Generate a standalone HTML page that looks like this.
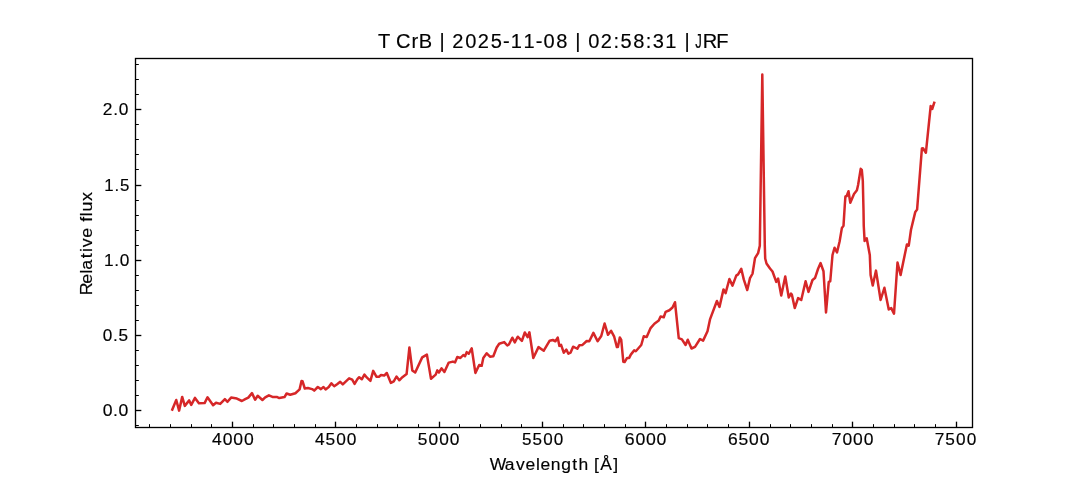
<!DOCTYPE html>
<html><head><meta charset="utf-8"><title>T CrB | 2025-11-08 | 02:58:31 | JRF</title>
<style>
html,body{margin:0;padding:0;background:#fff;width:1080px;height:480px;overflow:hidden}
svg{position:absolute;left:0;top:0;display:block}
text{font-family:"Liberation Sans", sans-serif;fill:#000}
</style></head><body>
<svg width="1080" height="480" viewBox="0 0 1080 480">
<rect x="0" y="0" width="1080" height="480" fill="#fff"/>
<path d="M172.3 409.6 L176.25 400 L179.1 410.6 L182.2 396.9 L184.8 405.9 L189.2 400.4 L191.25 404.9 L195 397.9 L198.9 403.3 L204.6 403.1 L207.5 397.3 L213.1 405.2 L216 402.8 L220.2 403.9 L224.9 399.2 L227.5 401.8 L231.1 397.6 L236.9 398.6 L241.9 401 L245.2 399.2 L248.3 397.6 L252 393.1 L255.1 399.7 L257.7 395.8 L262.4 400 L265.2 397.4 L268.9 395.3 L272.5 396.9 L276.7 396.9 L279.3 398.1 L284.5 397.1 L286.6 393.5 L290.2 394.8 L295.4 393.2 L299.6 389.4 L301.5 381 L302.5 381.25 L304.8 388.5 L307.9 388 L312.1 389.1 L314.2 390.6 L317.8 387 L320.9 389.1 L323.5 387 L325.6 389.4 L328.75 387 L331.4 383.3 L334.2 386.25 L337.1 384.2 L340.2 381.8 L342.8 384.4 L345.4 381.8 L349.1 378.3 L352.2 379.7 L354.6 383.9 L357.4 379.2 L359.2 377.2 L361.8 379.3 L364.4 374.6 L367 377.7 L370.4 380.8 L373.2 370.9 L376.4 376.7 L379 376.7 L381 375.1 L384.2 375.6 L386.8 373 L390.9 382.9 L393.75 381.35 L396.5 376.5 L399.3 380.3 L402.4 377.2 L406.6 374.1 L409.4 347.5 L412.3 370.4 L415.2 372.5 L422.2 357.4 L426.9 354.6 L431 378.75 L435.7 374.6 L437.3 370.4 L438.9 372.5 L441.5 368.3 L444.4 372 L448.75 362.6 L452.9 361.6 L455 362.4 L457.3 357 L460.4 358 L463.3 355 L465 356.25 L466.7 352.1 L468.75 353.75 L471.7 348.3 L475.4 372.9 L479.2 365 L481.7 365.8 L483.3 357.9 L486.7 353.3 L490 356.7 L493.3 356.25 L496.7 347.5 L499.2 343.75 L504.2 342.1 L507.3 345.5 L508.9 344.5 L512.3 337.7 L514.8 342.4 L517.7 336.7 L521.9 340.8 L524.8 332.5 L527.6 337.2 L529.4 332.3 L533.3 358 L538.5 347.1 L543.75 350.7 L549.7 340.7 L552.8 340 L555.4 341.25 L557.7 337.6 L559.4 345.9 L561.1 344.9 L563.75 352.7 L566.35 349.6 L568.4 353.75 L570.5 352.7 L573.1 346.7 L577.3 348.75 L579.4 345.2 L582.5 344.9 L586.7 341 L589.3 341.25 L593.4 332.9 L597.6 341.25 L601.25 336 L604.6 323.5 L608 334.8 L611.1 330.8 L614.2 336.7 L616.9 347.1 L617.9 347.1 L619.8 337.5 L621.25 340 L623.3 361.7 L624.6 362.1 L627.1 357.9 L629.2 357.9 L630.8 354.6 L634.2 350.4 L635.8 351.25 L641.25 345 L643.75 336.25 L646.7 337.1 L650.6 328.1 L654.4 323.75 L658.75 320.6 L660.6 316.5 L663.75 317.25 L665.6 311.9 L669.4 310.25 L672.5 307.5 L675 302.25 L678.75 338.1 L681.9 339.4 L685.6 345 L687.75 339.75 L691.5 348.5 L695 346.9 L700 339 L703.1 340.6 L707.5 331.25 L710 319.4 L716.9 301 L719.5 306.9 L723.5 289.4 L725.6 293.1 L729.4 279 L732.5 285.6 L736.25 275.6 L738.1 274.4 L741.25 268.75 L743.75 279.4 L747.25 290 L750 278.1 L752.5 273.75 L755 258.1 L758.1 253.1 L759.8 245.8 L762.3 74.5 L764.8 245.8 L765.2 258.5 L766.5 263.5 L770 268.5 L772.5 271.5 L776.25 281.9 L778.1 278.5 L781.25 295.6 L785.25 276.5 L788.75 297.5 L791 293.5 L791.9 294.75 L794.75 308.1 L798.1 298.1 L801.25 300 L805.6 281.25 L808.5 291.9 L812.5 280 L815 278.1 L818.1 268.75 L820.6 263.1 L823.5 271.25 L826 312.5 L828.75 281.9 L830.25 281.25 L832.5 255 L834.6 247.7 L837 252.4 L839.6 241.5 L841.9 227.9 L843.5 225.8 L844.8 205 L845.4 196.5 L846.7 196 L848.5 191.25 L850.3 202.7 L854 193.9 L856.9 190.2 L858.1 185 L860.7 168.85 L861.8 169.9 L862.8 180.8 L863.5 210 L863.75 225.8 L864.6 240.9 L866.7 238.3 L869.8 255 L870.6 275 L872.75 285.6 L876 270.6 L880.6 300 L884.4 287.75 L888.75 309.4 L891.25 308.1 L894 313.75 L897.5 262.5 L900.6 275 L906.9 244.4 L908.75 245.6 L911 229.7 L915.3 211.9 L917.1 209.6 L921.9 148.5 L923 148.3 L925.9 152.7 L930.7 106 L932.2 109 L934.2 102.8" fill="none" stroke="#d62728" stroke-width="2.5" stroke-linejoin="round" stroke-linecap="square"/>
<g stroke="#000" fill="none">
<path d="M149.5 427.5V424.167" stroke-width="1.0"/>
<path d="M170.5 427.5V424.167" stroke-width="1.0"/>
<path d="M191.5 427.5V424.167" stroke-width="1.0"/>
<path d="M211.5 427.5V424.167" stroke-width="1.0"/>
<path d="M232.5 427.5V421.667" stroke-width="1.333"/>
<path d="M253.5 427.5V424.167" stroke-width="1.0"/>
<path d="M273.5 427.5V424.167" stroke-width="1.0"/>
<path d="M294.5 427.5V424.167" stroke-width="1.0"/>
<path d="M315.5 427.5V424.167" stroke-width="1.0"/>
<path d="M335.5 427.5V421.667" stroke-width="1.333"/>
<path d="M356.5 427.5V424.167" stroke-width="1.0"/>
<path d="M377.5 427.5V424.167" stroke-width="1.0"/>
<path d="M397.5 427.5V424.167" stroke-width="1.0"/>
<path d="M418.5 427.5V424.167" stroke-width="1.0"/>
<path d="M439.5 427.5V421.667" stroke-width="1.333"/>
<path d="M459.5 427.5V424.167" stroke-width="1.0"/>
<path d="M480.5 427.5V424.167" stroke-width="1.0"/>
<path d="M501.5 427.5V424.167" stroke-width="1.0"/>
<path d="M521.5 427.5V424.167" stroke-width="1.0"/>
<path d="M542.5 427.5V421.667" stroke-width="1.333"/>
<path d="M563.5 427.5V424.167" stroke-width="1.0"/>
<path d="M583.5 427.5V424.167" stroke-width="1.0"/>
<path d="M604.5 427.5V424.167" stroke-width="1.0"/>
<path d="M625.5 427.5V424.167" stroke-width="1.0"/>
<path d="M645.5 427.5V421.667" stroke-width="1.333"/>
<path d="M666.5 427.5V424.167" stroke-width="1.0"/>
<path d="M687.5 427.5V424.167" stroke-width="1.0"/>
<path d="M707.5 427.5V424.167" stroke-width="1.0"/>
<path d="M728.5 427.5V424.167" stroke-width="1.0"/>
<path d="M749.5 427.5V421.667" stroke-width="1.333"/>
<path d="M770.5 427.5V424.167" stroke-width="1.0"/>
<path d="M790.5 427.5V424.167" stroke-width="1.0"/>
<path d="M811.5 427.5V424.167" stroke-width="1.0"/>
<path d="M832.5 427.5V424.167" stroke-width="1.0"/>
<path d="M852.5 427.5V421.667" stroke-width="1.333"/>
<path d="M873.5 427.5V424.167" stroke-width="1.0"/>
<path d="M894.5 427.5V424.167" stroke-width="1.0"/>
<path d="M914.5 427.5V424.167" stroke-width="1.0"/>
<path d="M935.5 427.5V424.167" stroke-width="1.0"/>
<path d="M956.5 427.5V421.667" stroke-width="1.333"/>
<path d="M135.5 425.5H138.833" stroke-width="1.0"/>
<path d="M135.5 410.5H141.333" stroke-width="1.333"/>
<path d="M135.5 395.5H138.833" stroke-width="1.0"/>
<path d="M135.5 380.5H138.833" stroke-width="1.0"/>
<path d="M135.5 365.5H138.833" stroke-width="1.0"/>
<path d="M135.5 350.5H138.833" stroke-width="1.0"/>
<path d="M135.5 335.5H141.333" stroke-width="1.333"/>
<path d="M135.5 320.5H138.833" stroke-width="1.0"/>
<path d="M135.5 305.5H138.833" stroke-width="1.0"/>
<path d="M135.5 290.5H138.833" stroke-width="1.0"/>
<path d="M135.5 275.5H138.833" stroke-width="1.0"/>
<path d="M135.5 260.5H141.333" stroke-width="1.333"/>
<path d="M135.5 245.5H138.833" stroke-width="1.0"/>
<path d="M135.5 230.5H138.833" stroke-width="1.0"/>
<path d="M135.5 215.5H138.833" stroke-width="1.0"/>
<path d="M135.5 200.5H138.833" stroke-width="1.0"/>
<path d="M135.5 185.5H141.333" stroke-width="1.333"/>
<path d="M135.5 169.5H138.833" stroke-width="1.0"/>
<path d="M135.5 154.5H138.833" stroke-width="1.0"/>
<path d="M135.5 139.5H138.833" stroke-width="1.0"/>
<path d="M135.5 124.5H138.833" stroke-width="1.0"/>
<path d="M135.5 109.5H141.333" stroke-width="1.333"/>
<path d="M135.5 94.5H138.833" stroke-width="1.0"/>
<path d="M135.5 79.5H138.833" stroke-width="1.0"/>
<path d="M135.5 64.5H138.833" stroke-width="1.0"/>
</g>
<rect x="135.5" y="58.5" width="837.0" height="369.0" fill="none" stroke="#000" stroke-width="1.333"/>
<g opacity="0.999" stroke="#000" stroke-width="0.18">
<text x="-0.015 13.318 19.229 35.616 43.214 57.963 65.071 71.796 78.641 92.36 105.523 119.16 132.144 140.207 153.648 166.648 174.811 188.252 201.284 208.392 215.117 222.241 235.403 248.92 256.158 269.681 282.92 290.265 303.581 316.713 323.82 330.545 332.841 343.119 357.337" y="0" font-size="21.192" transform="matrix(0.947,0,0,0.966,377.875,48)">T CrB | 2025-11-08 | 02:58:31 |  RF</text>
<text x="0" y="0" font-size="21.192" transform="matrix(0.62,0,0,0.966,695.322,48)">J</text>
<text x="0.413 11.07 21.726 32.382" y="0" font-size="17.661" transform="matrix(0.995,0,0,0.98,211.7,445)">4000</text>
<text x="0.487 11.228 22.099 32.904" y="0" font-size="17.661" transform="matrix(0.981,0,0,0.98,314.575,445)">4500</text>
<text x="0.424 11.297 22.105 32.912" y="0" font-size="17.661" transform="matrix(0.981,0,0,0.98,417.45,445)">5000</text>
<text x="0.501 11.464 22.495 33.458" y="0" font-size="17.661" transform="matrix(0.967,0,0,0.98,521.45,445)">5500</text>
<text x="0.37 10.936 21.502 32.069" y="0" font-size="17.661" transform="matrix(1.003,0,0,0.98,624.45,445)">6000</text>
<text x="0.446 11.095 21.876 32.592" y="0" font-size="17.661" transform="matrix(0.989,0,0,0.98,727.45,445)">6500</text>
<text x="0.409 11.155 21.868 32.58" y="0" font-size="17.661" transform="matrix(0.99,0,0,0.98,831.45,445)">7000</text>
<text x="0.486 11.321 22.254 33.122" y="0" font-size="17.661" transform="matrix(0.976,0,0,0.98,934.325,445)">7500</text>
<text x="0.402 10.826 16.344" y="0" font-size="17.661" transform="matrix(0.997,0,0,0.98,102.25,416)">0.0</text>
<text x="0.54 11.172 16.831" y="0" font-size="17.661" transform="matrix(0.972,0,0,0.98,102.25,341)">0.5</text>
<text x="0.418 11.085 16.758" y="0" font-size="17.661" transform="matrix(0.978,0,0,0.98,103.5,266)">1.0</text>
<text x="0.573 11.463 17.295" y="0" font-size="17.661" transform="matrix(0.952,0,0,0.98,103.625,191)">1.5</text>
<text x="0.264 11.04 16.687" y="0" font-size="17.661" transform="matrix(0.981,0,0,0.98,102.375,115)">2.0</text>
<text x="-0.007 15.205 26.483 36.19 46.628 51.238 61.763 72.312 83.478 89.719 100.182 105.492 111.758 124.903" y="0" font-size="17.661" transform="matrix(0.989,0,0,0.98,489.8,470)">Wavelength [Å]</text>
<text x="-0.387 10.918 21.2 24.969 36.299 42.369 47.081 56.575 66.695 72.43 77.908 82.444 93.048" y="0" font-size="17.661" transform="matrix(0,-1.01,0.98,0,92,294.875)">Relative flux</text>
</g>
</svg>
</body></html>
